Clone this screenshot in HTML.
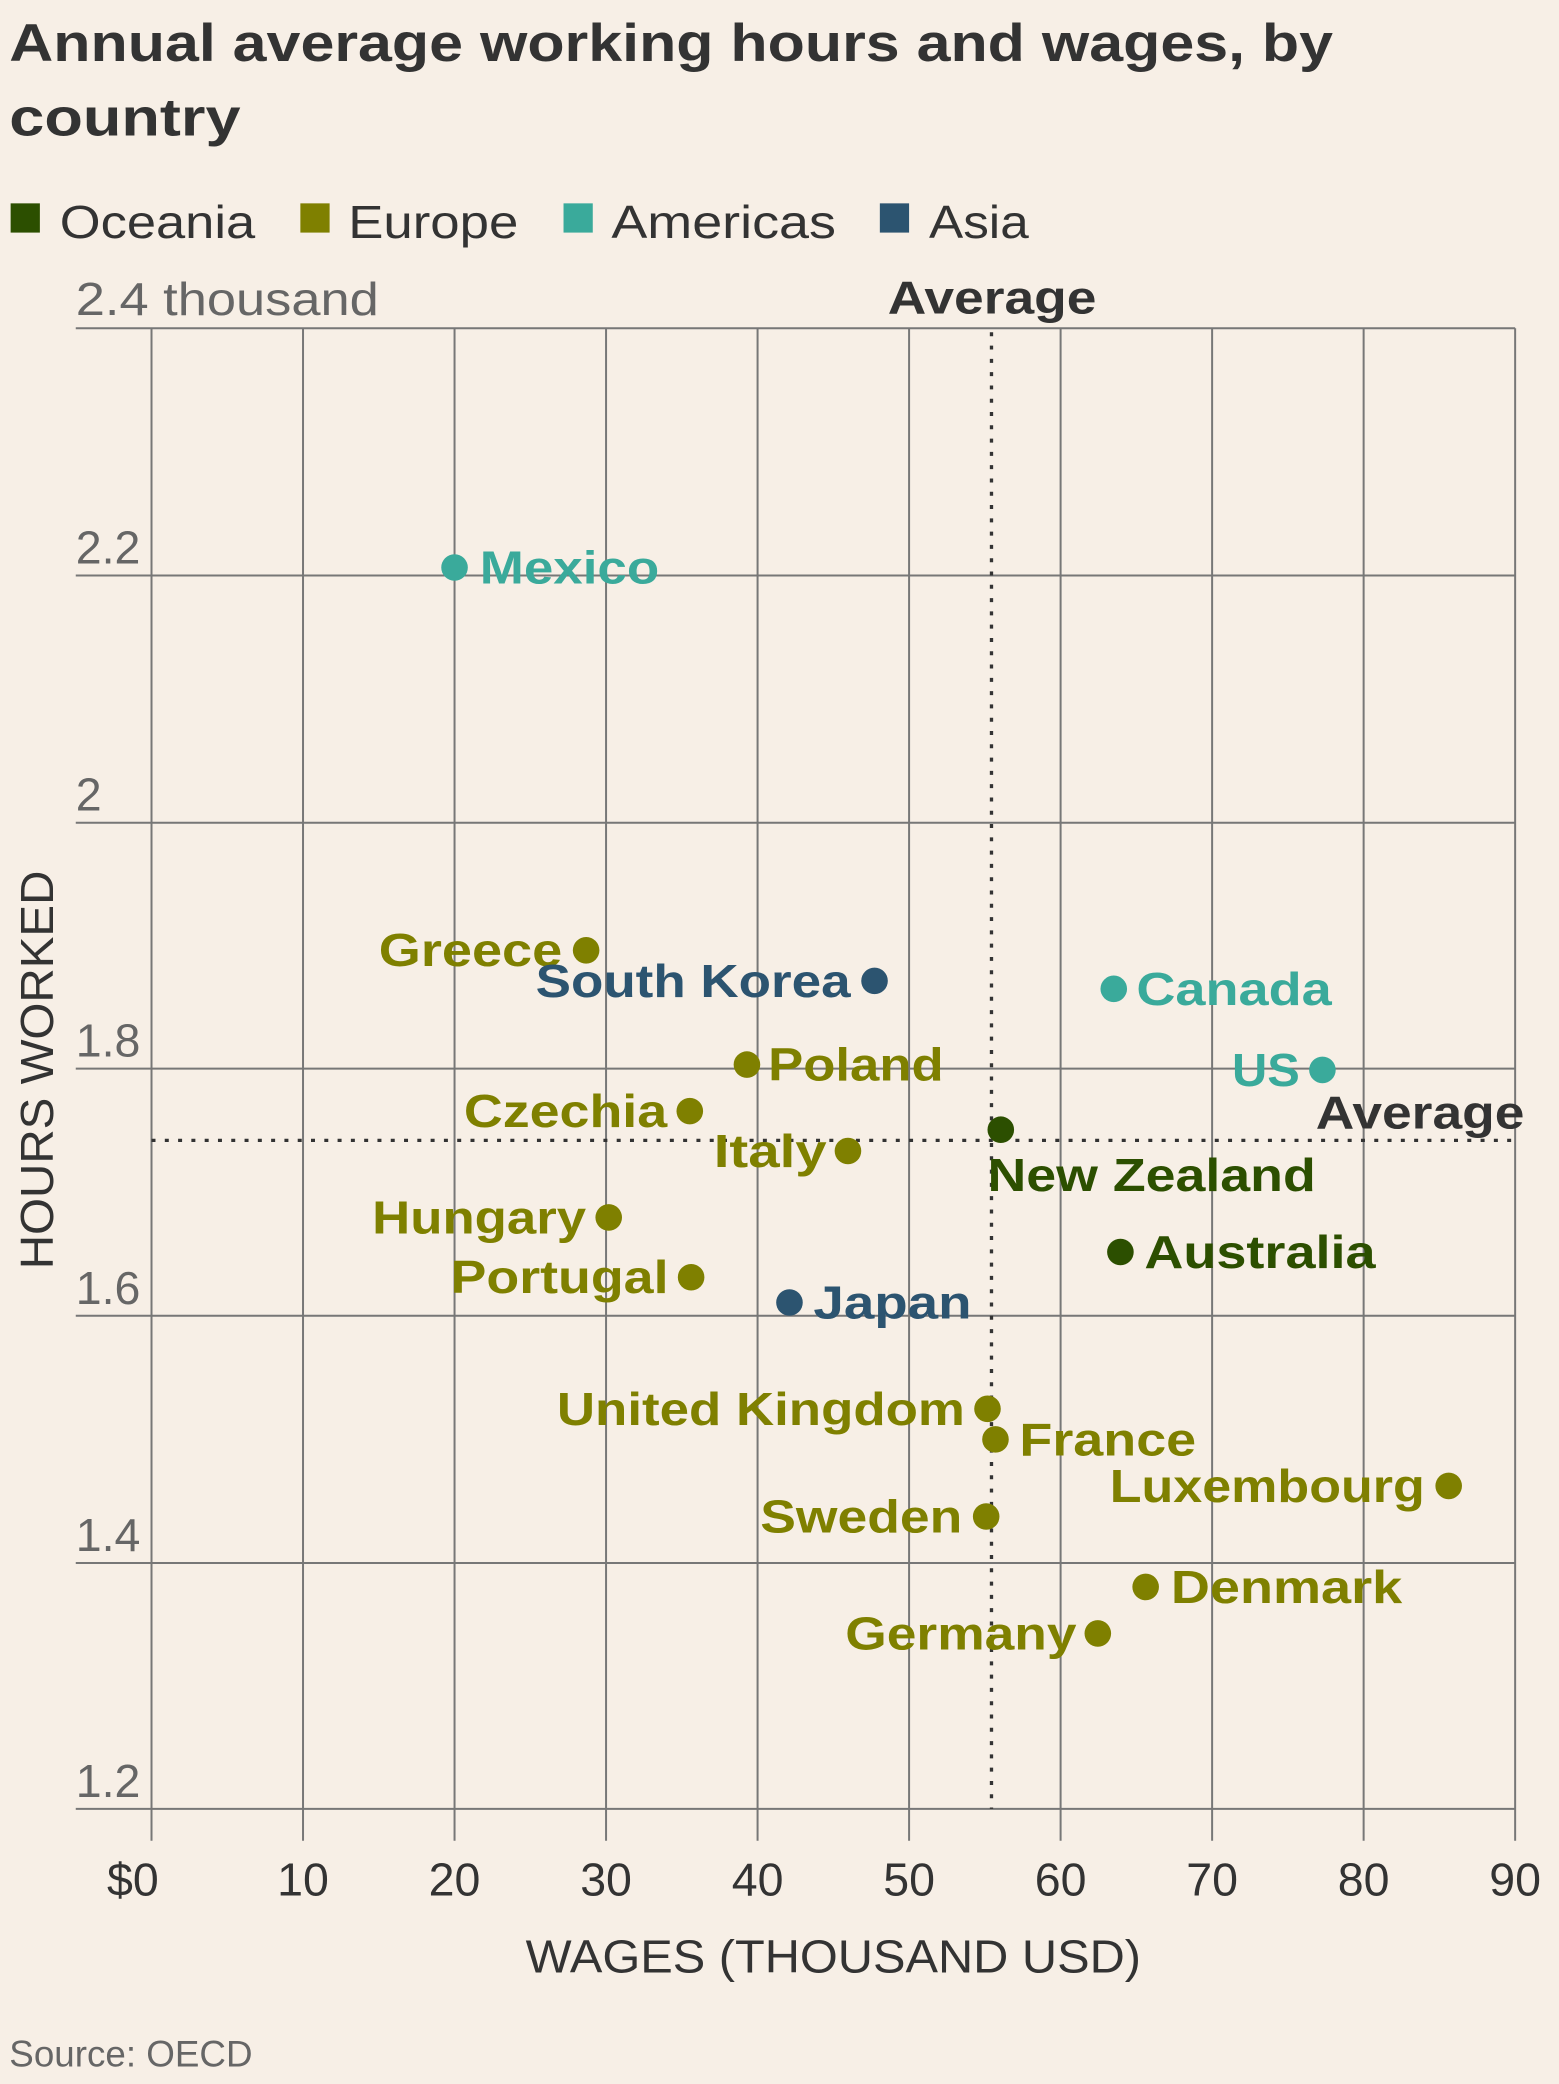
<!DOCTYPE html>
<html><head><meta charset="utf-8"><style>
html,body{margin:0;padding:0;background:#f7efe6;}
svg{display:block}
text{font-family:"Liberation Sans",sans-serif;}
.l{font-weight:bold;font-size:35px;}
.E{fill:#7f8000}.O{fill:#2c4f00}.A{fill:#3aaa9b}.S{fill:#2c5470}
</style></head><body>
<svg width="1559" height="2084" viewBox="0 0 1173 1568" xmlns="http://www.w3.org/2000/svg">
<rect width="1173" height="1568" fill="#f7efe6"/>
<text x="7" y="46" font-size="40" font-weight="bold" fill="#333" textLength="996" lengthAdjust="spacingAndGlyphs">Annual average working hours and wages, by</text>
<text x="7" y="102" font-size="40" font-weight="bold" fill="#333" textLength="174" lengthAdjust="spacingAndGlyphs">country</text>
<g font-size="35" fill="#333">
<rect x="8" y="153" width="22" height="22" fill="#2c4f00"/><text x="45" y="179" textLength="147" lengthAdjust="spacingAndGlyphs">Oceania</text>
<rect x="226" y="153" width="22" height="22" fill="#7f8000"/><text x="262" y="179" textLength="128" lengthAdjust="spacingAndGlyphs">Europe</text>
<rect x="424" y="153" width="22" height="22" fill="#3aaa9b"/><text x="460" y="179" textLength="169" lengthAdjust="spacingAndGlyphs">Americas</text>
<rect x="662" y="153" width="22" height="22" fill="#2c5470"/><text x="699" y="179" textLength="75" lengthAdjust="spacingAndGlyphs">Asia</text>
</g>
<g stroke="#777" stroke-width="1.5">
<line x1="57" y1="247" x2="1140" y2="247"/><line x1="57" y1="433" x2="1140" y2="433"/>
<line x1="57" y1="619" x2="1140" y2="619"/><line x1="57" y1="804" x2="1140" y2="804"/>
<line x1="57" y1="990" x2="1140" y2="990"/><line x1="57" y1="1176" x2="1140" y2="1176"/>
<line x1="57" y1="1361" x2="1140" y2="1361"/>
<line x1="114" y1="247" x2="114" y2="1385"/><line x1="228" y1="247" x2="228" y2="1385"/>
<line x1="342" y1="247" x2="342" y2="1385"/><line x1="456" y1="247" x2="456" y2="1385"/>
<line x1="570" y1="247" x2="570" y2="1385"/><line x1="684" y1="247" x2="684" y2="1385"/>
<line x1="798" y1="247" x2="798" y2="1385"/><line x1="912" y1="247" x2="912" y2="1385"/>
<line x1="1026" y1="247" x2="1026" y2="1385"/><line x1="1140" y1="247" x2="1140" y2="1385"/>
</g>
<g font-size="35" fill="#666">
<text x="57" y="237" textLength="228" lengthAdjust="spacingAndGlyphs">2.4 thousand</text>
<text x="57" y="424">2.2</text><text x="57" y="610">2</text><text x="57" y="795">1.8</text>
<text x="57" y="981">1.6</text><text x="57" y="1167">1.4</text><text x="57" y="1352">1.2</text>
</g>
<g font-size="35" fill="#333" text-anchor="middle">
<text x="100" y="1426">$0</text><text x="228" y="1426">10</text><text x="342" y="1426">20</text>
<text x="456" y="1426">30</text><text x="570" y="1426">40</text><text x="684" y="1426">50</text>
<text x="798" y="1426">60</text><text x="912" y="1426">70</text><text x="1026" y="1426">80</text>
<text x="1140" y="1426">90</text>
<text x="627" y="1484" textLength="463" lengthAdjust="spacingAndGlyphs">WAGES (THOUSAND USD)</text>
<text transform="translate(40,805) rotate(-90)" textLength="300" lengthAdjust="spacingAndGlyphs">HOURS WORKED</text>
</g>
<text x="7" y="1555" font-size="28" fill="#666" textLength="183" lengthAdjust="spacingAndGlyphs">Source: OECD</text>
<g stroke="#333" stroke-width="2.5" stroke-dasharray="3 7">
<line x1="746" y1="250" x2="746" y2="1361"/>
<line x1="114" y1="858" x2="1140" y2="858"/>
</g>
<text class="l" x="668" y="236" fill="#333" textLength="157" lengthAdjust="spacingAndGlyphs">Average</text>
<text class="l" x="990" y="849" fill="#333" textLength="157" lengthAdjust="spacingAndGlyphs">Average</text>
<g>
<circle class="A" cx="342" cy="427" r="10"/><text class="l A" x="361" y="439" textLength="135" lengthAdjust="spacingAndGlyphs">Mexico</text>
<circle class="E" cx="441" cy="715" r="10"/><text class="l E" x="285" y="727" textLength="138" lengthAdjust="spacingAndGlyphs">Greece</text>
<circle class="S" cx="658" cy="738" r="10"/><text class="l S" x="403" y="750" textLength="237" lengthAdjust="spacingAndGlyphs">South Korea</text>
<circle class="A" cx="838" cy="744" r="10"/><text class="l A" x="855" y="756" textLength="147" lengthAdjust="spacingAndGlyphs">Canada</text>
<circle class="A" cx="995" cy="805" r="10"/><text class="l A" x="927" y="817" textLength="51" lengthAdjust="spacingAndGlyphs">US</text>
<circle class="E" cx="562" cy="801" r="10"/><text class="l E" x="578" y="813" textLength="132" lengthAdjust="spacingAndGlyphs">Poland</text>
<circle class="E" cx="519" cy="836" r="10"/><text class="l E" x="349" y="848" textLength="153" lengthAdjust="spacingAndGlyphs">Czechia</text>
<circle class="E" cx="638" cy="866" r="10"/><text class="l E" x="537" y="878" textLength="85" lengthAdjust="spacingAndGlyphs">Italy</text>
<circle class="O" cx="753" cy="850" r="10"/><text class="l O" x="743" y="896" textLength="247" lengthAdjust="spacingAndGlyphs">New Zealand</text>
<circle class="E" cx="458" cy="916" r="10"/><text class="l E" x="280" y="928" textLength="161" lengthAdjust="spacingAndGlyphs">Hungary</text>
<circle class="E" cx="520" cy="961" r="10"/><text class="l E" x="339" y="973" textLength="164" lengthAdjust="spacingAndGlyphs">Portugal</text>
<circle class="S" cx="594" cy="980" r="10"/><text class="l S" x="612" y="992" textLength="119" lengthAdjust="spacingAndGlyphs">Japan</text>
<circle class="O" cx="843" cy="942" r="10"/><text class="l O" x="861" y="954" textLength="174" lengthAdjust="spacingAndGlyphs">Australia</text>
<circle class="E" cx="743" cy="1060" r="10"/><text class="l E" x="419" y="1072" textLength="307" lengthAdjust="spacingAndGlyphs">United Kingdom</text>
<circle class="E" cx="749" cy="1083" r="10"/><text class="l E" x="767" y="1095" textLength="133" lengthAdjust="spacingAndGlyphs">France</text>
<circle class="E" cx="1090" cy="1118" r="10"/><text class="l E" x="835" y="1130" textLength="237" lengthAdjust="spacingAndGlyphs">Luxembourg</text>
<circle class="E" cx="742" cy="1141" r="10"/><text class="l E" x="572" y="1153" textLength="152" lengthAdjust="spacingAndGlyphs">Sweden</text>
<circle class="E" cx="862" cy="1194" r="10"/><text class="l E" x="881" y="1206" textLength="174" lengthAdjust="spacingAndGlyphs">Denmark</text>
<circle class="E" cx="826" cy="1229" r="10"/><text class="l E" x="636" y="1241" textLength="174" lengthAdjust="spacingAndGlyphs">Germany</text>
</g>
</svg>
</body></html>
